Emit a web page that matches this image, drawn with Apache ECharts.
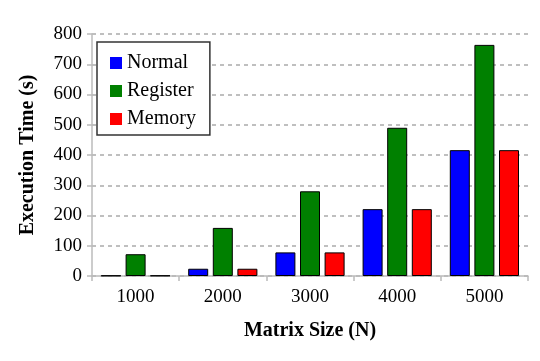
<!DOCTYPE html>
<html>
<head>
<meta charset="utf-8">
<script src="https://cdn.jsdelivr.net/npm/echarts@6/dist/echarts.min.js"></script>
<style>
  html, body { margin: 0; padding: 0; background: #fff; }
  #chart { width: 540px; height: 361px; }
</style>
</head>
<body>
<div id="chart"></div>
<script>
var sizes = ['1000', '2000', '3000', '4000', '5000']
var normalTimes = [1.5, 24, 78, 221, 416]
var registerTimes = [72, 159, 280, 490, 764]
var memoryTimes = [1.5, 24, 78, 221, 416]

var font = "'Liberation Serif', serif"
var chart = echarts.init(document.getElementById('chart'))

function barSeries (name, color, data) {
  return {
    name: name,
    type: 'bar',
    data: data,
    barWidth: 20,
    barGap: '23%',
    itemStyle: { color: color, borderColor: '#000', borderWidth: 1 }
  }
}

chart.setOption({
  animation: false,
  grid: { left: 92, right: 12, top: 34, bottom: 85 },
  legend: {
    orient: 'vertical',
    left: 97,
    top: 42,
    padding: [11, 14, 6, 13],
    itemGap: 8,
    itemWidth: 12,
    itemHeight: 12,
    icon: 'rect',
    borderColor: '#333',
    borderWidth: 1.5,
    backgroundColor: '#fff',
    itemStyle: { borderWidth: 0 },
    textStyle: { fontFamily: font, fontSize: 20, color: '#000', lineHeight: 20 },
    data: ['Normal', 'Register', 'Memory']
  },
  xAxis: {
    type: 'category',
    data: sizes,
    name: 'Matrix Size (N)',
    nameLocation: 'middle',
    nameGap: 45,
    nameTextStyle: { fontFamily: font, fontSize: 20, fontWeight: 'bold', color: '#000' },
    axisLine: { lineStyle: { color: '#bbb', width: 1.5 } },
    axisTick: { show: true, length: 5, lineStyle: { color: '#bbb', width: 1.5 } },
    axisLabel: { fontFamily: font, fontSize: 19, color: '#000', margin: 12 }
  },
  yAxis: {
    type: 'value',
    min: 0,
    max: 800,
    interval: 100,
    name: 'Execution Time (s)',
    nameLocation: 'middle',
    nameGap: 54,
    nameTextStyle: { fontFamily: font, fontSize: 20, fontWeight: 'bold', color: '#000' },
    axisLine: { show: true, lineStyle: { color: '#bbb', width: 1.5 } },
    axisTick: { show: true, length: 5, lineStyle: { color: '#bbb', width: 1.5 } },
    axisLabel: { fontFamily: font, fontSize: 19, color: '#000', margin: 10 },
    splitLine: { lineStyle: { color: '#aaa', type: [4, 4], width: 1.5 } }
  },
  series: [
    barSeries('Normal', '#0000ff', normalTimes),
    barSeries('Register', '#008000', registerTimes),
    barSeries('Memory', '#ff0000', memoryTimes)
  ]
})
</script>
</body>
</html>
